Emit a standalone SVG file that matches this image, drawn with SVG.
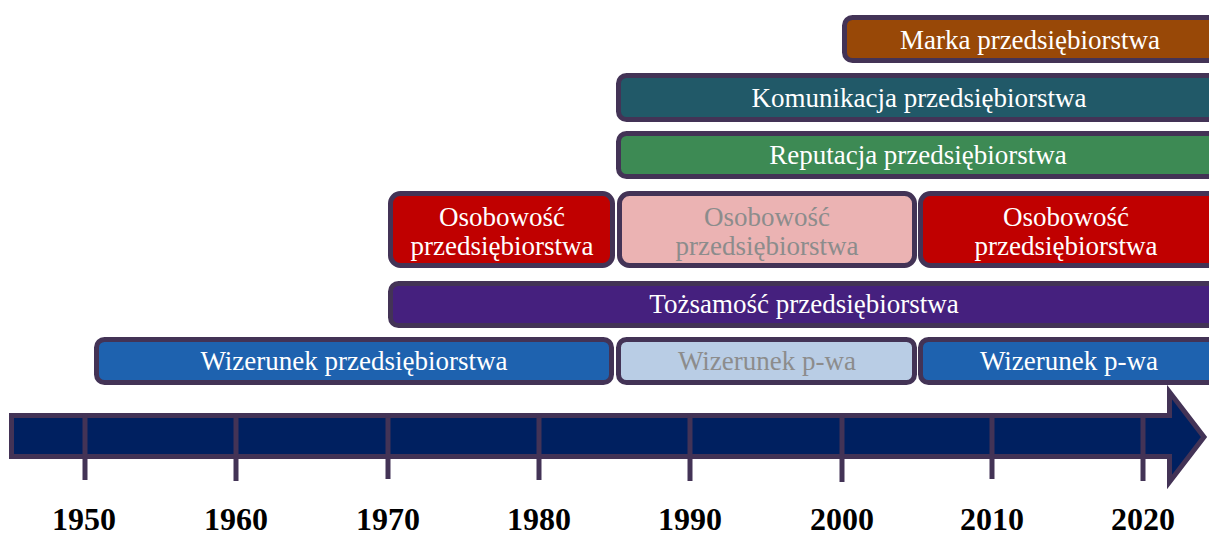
<svg xmlns="http://www.w3.org/2000/svg" width="1209" height="533" viewBox="0 0 1209 533">
<style>
.b{stroke:#433356;stroke-width:5}
.t{font-family:"Liberation Serif","Times New Roman",serif;font-size:27px;fill:#ffffff;text-anchor:middle}
.g{fill:#8c8c8c}
.y{font-family:"Liberation Serif","Times New Roman",serif;font-size:32px;font-weight:bold;fill:#000;text-anchor:middle}
.tk{stroke:#433356;stroke-width:5}
</style>
<rect width="1209" height="533" fill="#fff"/>
<g id="marka"><rect class="b" x="844.5" y="17.5" width="380" height="43" rx="8" fill="#984807"/><text class="t" x="1030" y="49">Marka przedsiębiorstwa</text></g>
<g id="komunikacja"><rect class="b" x="618.5" y="75.5" width="606" height="44" rx="8" fill="#215968"/><text class="t" x="919" y="107">Komunikacja przedsiębiorstwa</text></g>
<g id="reputacja"><rect class="b" x="618.5" y="133.5" width="606" height="43" rx="8" fill="#3d8a54"/><text class="t" x="918" y="164">Reputacja przedsiębiorstwa</text></g>
<g id="osobowosc1"><rect class="b" x="390.5" y="193.5" width="222" height="72" rx="10" fill="#c00000"/><text class="t" x="502" y="226">Osobowość</text><text class="t" x="502" y="255">przedsiębiorstwa</text></g>
<g id="osobowosc2"><rect class="b" x="619.5" y="193.5" width="295" height="72" rx="10" fill="#ebb3b3"/><text class="t g" x="767" y="226">Osobowość</text><text class="t g" x="767" y="255">przedsiębiorstwa</text></g>
<g id="osobowosc3"><rect class="b" x="920.5" y="193.5" width="304" height="72" rx="10" fill="#c00000"/><text class="t" x="1066" y="226">Osobowość</text><text class="t" x="1066" y="255">przedsiębiorstwa</text></g>
<g id="tozsamosc"><rect class="b" x="390.5" y="283.5" width="834" height="42" rx="8" fill="#45207e"/><text class="t" x="804" y="313">Tożsamość przedsiębiorstwa</text></g>
<g id="wizerunek1"><rect class="b" x="96.5" y="339.5" width="515" height="43" rx="8" fill="#1e62af"/><text class="t" x="354" y="370">Wizerunek przedsiębiorstwa</text></g>
<g id="wizerunek2"><rect class="b" x="618.5" y="339.5" width="296" height="43" rx="8" fill="#b9cde5"/><text class="t g" x="767" y="370">Wizerunek p-wa</text></g>
<g id="wizerunek3"><rect class="b" x="920.5" y="339.5" width="304" height="43" rx="8" fill="#1e62af"/><text class="t" x="1069" y="370">Wizerunek p-wa</text></g>
<g id="connectors">
<polygon points="11.5,415.5 1169.5,415.5 1169.5,392 1204,437 1169.5,482 1169.5,456.5 11.5,456.5" fill="#002060" stroke="#433356" stroke-width="5" stroke-linejoin="miter"/>
<line class="tk" x1="85" y1="414" x2="85" y2="480"/>
<line class="tk" x1="236" y1="414" x2="236" y2="481"/>
<line class="tk" x1="388" y1="414" x2="388" y2="479"/>
<line class="tk" x1="539" y1="414" x2="539" y2="480"/>
<line class="tk" x1="690" y1="414" x2="690" y2="481"/>
<line class="tk" x1="842" y1="414" x2="842" y2="482"/>
<line class="tk" x1="992" y1="414" x2="992" y2="479"/>
<line class="tk" x1="1143" y1="414" x2="1143" y2="481"/>
</g>
<g id="years">
<text class="y" x="84" y="530">1950</text>
<text class="y" x="236" y="530">1960</text>
<text class="y" x="388" y="530">1970</text>
<text class="y" x="539" y="530">1980</text>
<text class="y" x="690" y="530">1990</text>
<text class="y" x="842" y="530">2000</text>
<text class="y" x="992" y="530">2010</text>
<text class="y" x="1143" y="530">2020</text>
</g>
</svg>
